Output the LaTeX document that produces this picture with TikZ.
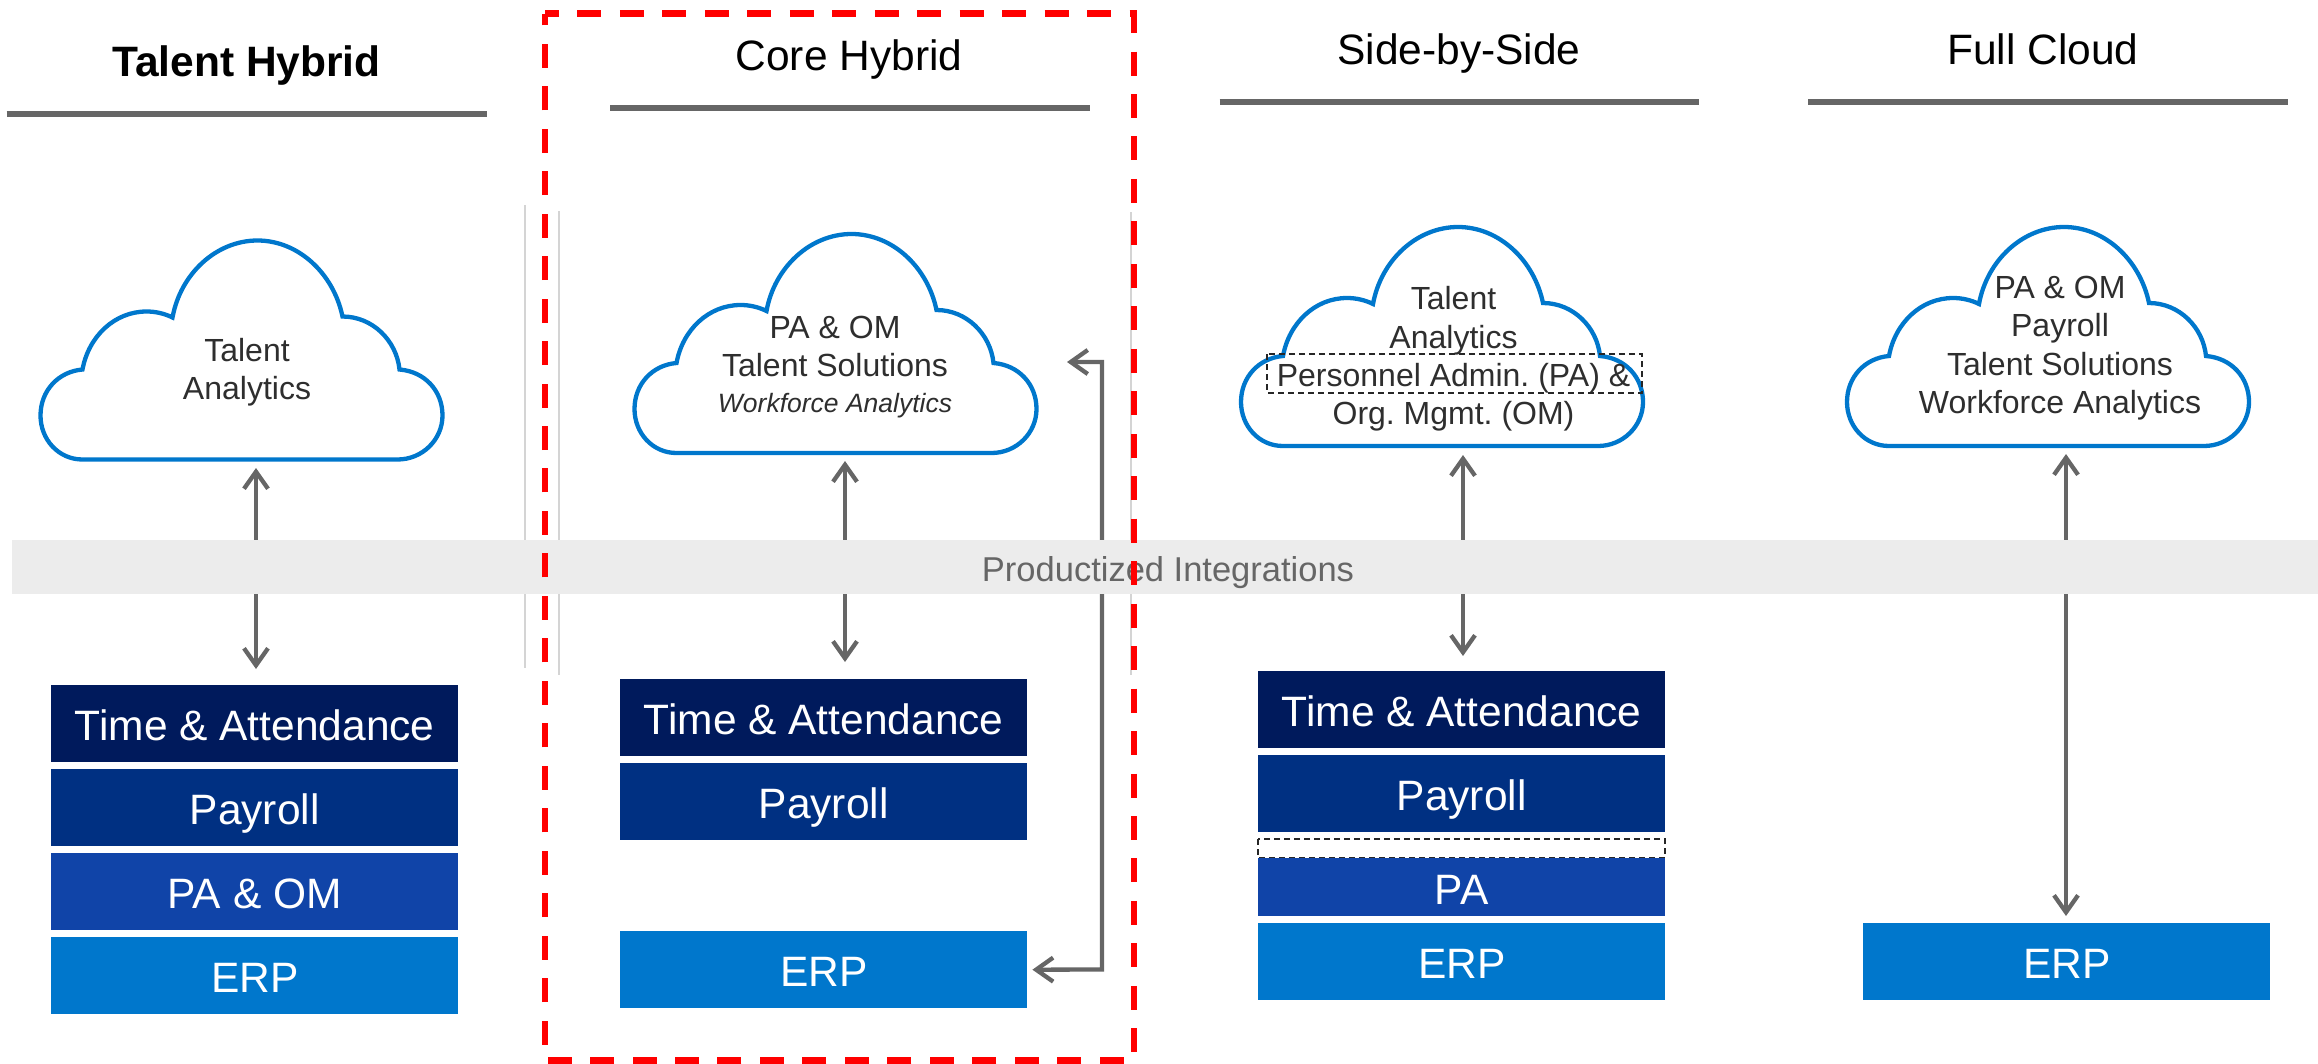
\documentclass[tikz,border=0pt]{standalone}
\usepackage{fontspec}
\setmainfont{Liberation Sans}
\frenchspacing
\usetikzlibrary{arrows.meta}
\definecolor{cloudblue}{HTML}{0077CC}
\definecolor{tacol}{HTML}{001A5C}
\definecolor{paycol}{HTML}{003082}
\definecolor{pacol}{HTML}{1044A8}
\definecolor{erpcol}{HTML}{0077CC}
\definecolor{linegray}{HTML}{666666}
\definecolor{bandgray}{HTML}{ECECEC}
\definecolor{txtdark}{HTML}{2E2E2E}
\definecolor{thingray}{HTML}{D4D4D4}
\newcommand{\cloudtxt}{\fontsize{32}{38.4}\selectfont}
\tikzset{
  x=1pt,y=-1pt,
  boxbase/.style={anchor=north west,minimum width=407pt,minimum height=77pt,inner sep=0pt,text=white,text height=34pt,text depth=0pt,font=\fontsize{42.5}{50}\selectfont},
  tabox/.style={boxbase,fill=tacol},
  paybox/.style={boxbase,fill=paycol},
  pabox/.style={boxbase,fill=pacol},
  erpbox/.style={boxbase,fill=erpcol},
  titletext/.style={font=\fontsize{42.5}{50}\selectfont,text=black,inner sep=0pt,anchor=base},
  headline/.style={draw=linegray,line width=6pt},
  biarrow/.style={draw=linegray,line width=4.3pt,{Straight Barb[length=17pt,width=24pt,line width=4.3pt]}-{Straight Barb[length=17pt,width=24pt,line width=4.3pt]}},
  cloudshape/.style={draw=cloudblue,fill=white,line width=4.3pt,line join=miter},
  cloudtext/.style={font=\cloudtxt,text=txtdark,align=center,inner sep=0pt},
  thinline/.style={draw=thingray,line width=1.2pt},
  dashedbox/.style={draw=black!85,line width=1.2pt,dash pattern=on 6pt off 4pt},
  redframe/.style={draw=red,line width=6.2pt,dash pattern=on 24pt off 18.47pt,dash phase=10pt}
}
\newcommand{\cloudat}[2]{%
  \draw[cloudshape,shift={(#1,#2)}] (42,219) -- (357,219)
   .. controls (382,219) and (402,199) .. (402,175)
   .. controls (402,150) and (384,131) .. (359,129)
   .. controls (356,100) and (332,76) .. (302,76)
   .. controls (293,33) and (258,0) .. (217,0)
   .. controls (176,0) and (140,33) .. (132,77)
   .. controls (124,73) and (115,71) .. (106,71)
   .. controls (74,71) and (48,96) .. (42,129)
   .. controls (18,131) and (0,150) .. (0,175)
   .. controls (0,199) and (18,219) .. (42,219) -- cycle;}
\begin{document}
\begin{tikzpicture}
\useasboundingbox (0,0) rectangle (2318,1063);
% thin vertical lines
\coordinate (t1a) at (525,205); \coordinate (t1b) at (525,668);
\coordinate (t2a) at (559,211); \coordinate (t2b) at (559,675);
\coordinate (t3a) at (1131,212); \coordinate (t3b) at (1131,675);
\draw[thinline] (t1a) -- (t1b);
\draw[thinline] (t2a) -- (t2b);
\draw[thinline] (t3a) -- (t3b);
% titles
\node[titletext,font=\fontsize{42.5}{50}\selectfont\bfseries] (title1) at (246.5,76) {Talent Hybrid};
\node[titletext] (title2) at (849,70) {Core Hybrid};
\node[titletext] (title3) at (1459,64) {Side-by-Side};
\node[titletext] (title4) at (2043,64) {Full Cloud};
\coordinate (h1a) at (6.5,114); \coordinate (h1b) at (487,114);
\coordinate (h2a) at (610,108); \coordinate (h2b) at (1090,108);
\coordinate (h3a) at (1219.5,102); \coordinate (h3b) at (1699,102);
\coordinate (h4a) at (1808,102); \coordinate (h4b) at (2288,102);
\draw[headline] (h1a) -- (h1b);
\draw[headline] (h2a) -- (h2b);
\draw[headline] (h3a) -- (h3b);
\draw[headline] (h4a) -- (h4b);
% clouds
\cloudat{40.5}{240.5}
\cloudat{634.5}{234}
\cloudat{1241}{227}
\cloudat{1847}{227}
\node[cloudtext] (cloud1) at (247,372) {Talent\\Analytics};
\node[cloudtext] (cloud2) at (835,367) {PA \& OM\\Talent Solutions\\[-2pt]{\fontsize{26.5}{34}\selectfont\itshape Workforce Analytics}};
\node[cloudtext] (cloud3) at (1453.5,359) {Talent\\Analytics\\Personnel Admin. (PA) \&\\Org. Mgmt. (OM)};
\node[cloudtext] (cloud4) at (2060,348) {PA \& OM\\Payroll\\Talent Solutions\\Workforce Analytics};
\coordinate (dba) at (1267,354); \coordinate (dbb) at (1642,393);
\draw[dashedbox] (dba) rectangle (dbb);
% boxes
\node[tabox] (ta1) at (51,685) {Time \& Attendance};
\node[paybox] (pay1) at (51,769) {Payroll};
\node[pabox] (pa1) at (51,853) {PA \& OM};
\node[erpbox] (erp1) at (51,937) {ERP};
\node[tabox] (ta2) at (620,679) {Time \& Attendance};
\node[paybox] (pay2) at (620,763) {Payroll};
\node[erpbox] (erp2) at (620,931) {ERP};
\node[tabox] (ta3) at (1258,671) {Time \& Attendance};
\node[paybox] (pay3) at (1258,755) {Payroll};
\coordinate (dca) at (1258,839); \coordinate (dcb) at (1665,858);
\draw[dashedbox] (dca) rectangle (dcb);
\node[pabox,minimum height=58pt] (pa3) at (1258,858) {PA};
\node[erpbox] (erp3) at (1258,923) {ERP};
\node[erpbox] (erp4) at (1863,923) {ERP};
% arrows
\coordinate (a1t) at (256,468); \coordinate (a1b) at (256,669);
\coordinate (a2t) at (845,461); \coordinate (a2b) at (845,662);
\coordinate (a3t) at (1463,455); \coordinate (a3b) at (1463,656);
\coordinate (a4t) at (2066,454); \coordinate (a4b) at (2066,916);
\draw[biarrow] (a1t) -- (a1b);
\draw[biarrow] (a2t) -- (a2b);
\draw[biarrow] (a3t) -- (a3b);
\draw[biarrow] (a4t) -- (a4b);
\coordinate (e2r) at (1102,969.5);
\coordinate (e2t) at (1102,362);
\coordinate (e2c) at (1067,362);
\draw[biarrow,shorten <=5pt] (erp2.east) -- (e2r) -- (e2t) -- (e2c);
% band
\node[anchor=north west,fill=bandgray,minimum width=2306pt,minimum height=54pt,inner sep=0pt] (band) at (12,540) {};
\node[text=linegray,font=\fontsize{34.5}{40}\selectfont,inner sep=0pt] (bandtext) at (1168,573) {Productized Integrations};
% red frame
\coordinate (ra) at (545,13.5); \coordinate (rb) at (1134,1060.5);
\draw[redframe] (ra) -| (rb) -| (ra) -- cycle;
\end{tikzpicture}
\end{document}
